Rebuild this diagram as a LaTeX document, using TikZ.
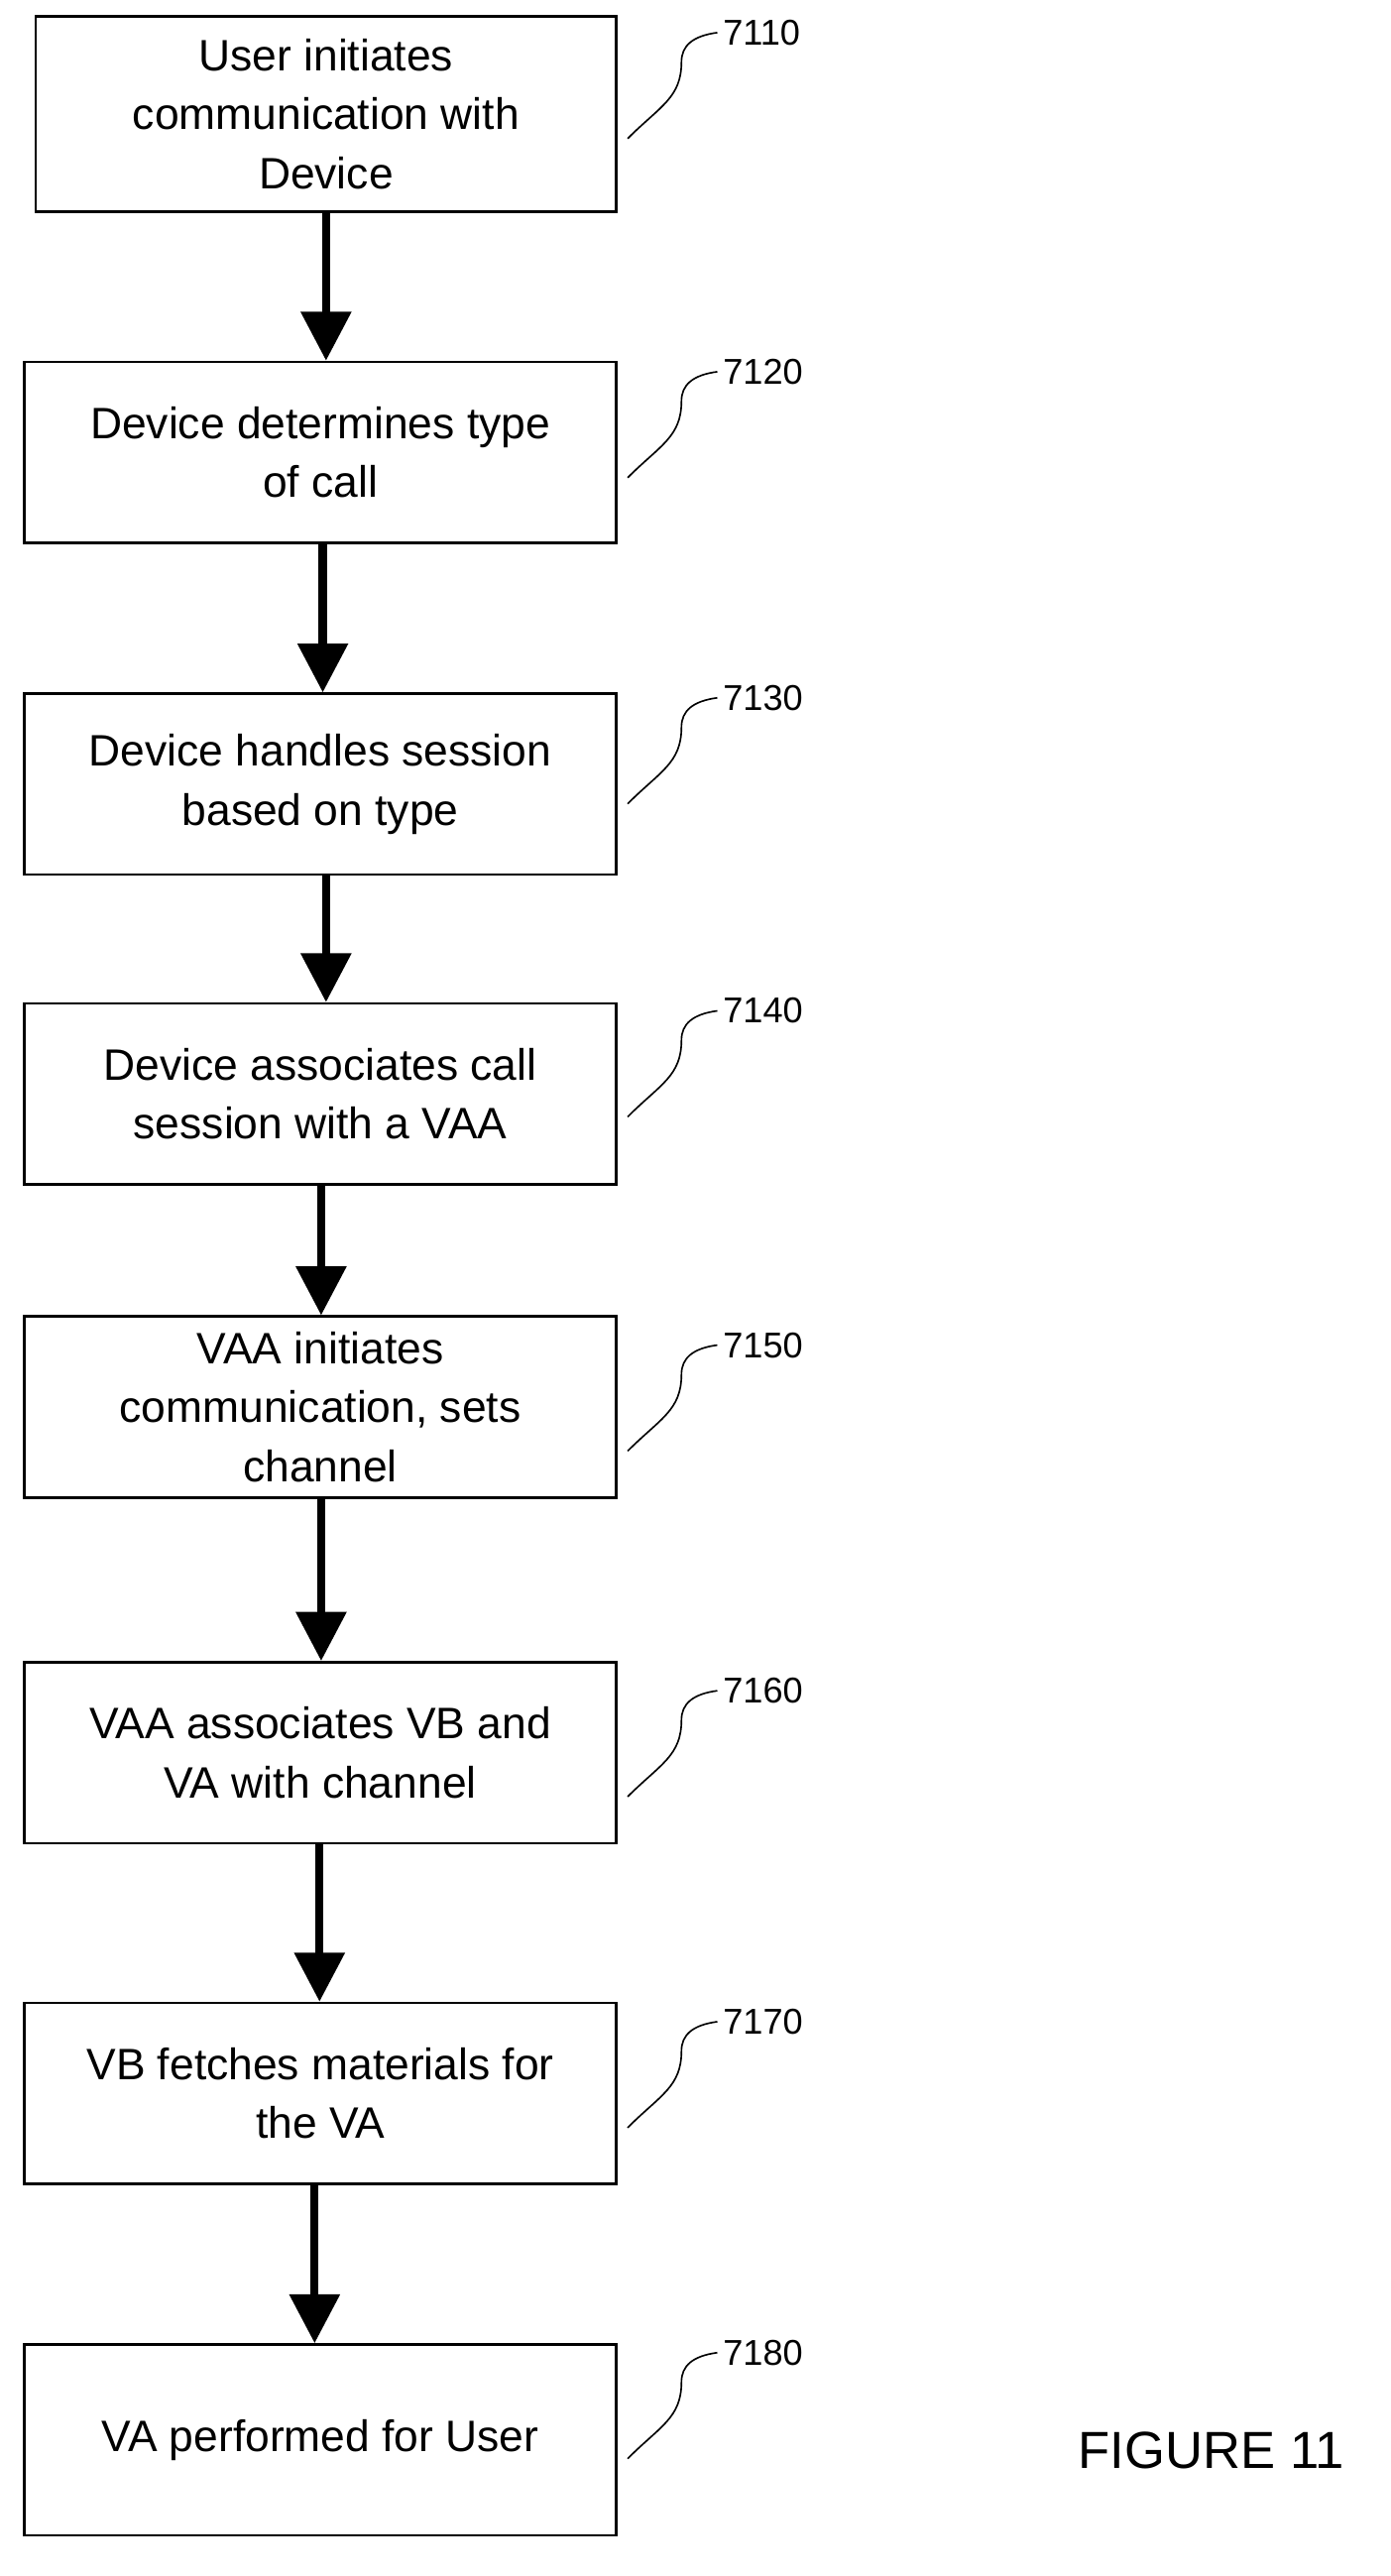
\documentclass[tikz,border=0pt]{standalone}
\usepackage{fontspec}
\setmainfont{Liberation Sans}
\usetikzlibrary{arrows.meta}
\begin{document}
\begin{tikzpicture}[x=1pt,y=-1pt,
 box/.style={draw,line width=1.6pt,minimum width=363pt,minimum height=111pt,align=center,font=\fontsize{27}{36}\selectfont,inner sep=0pt},
 arr/.style={line width=5pt,-{Triangle[length=30pt,width=30pt]}},
 lab/.style={font=\fontsize{22}{26}\selectfont,anchor=west},
 sq/.style={line width=1pt}]
\useasboundingbox (0,0) rectangle (853,1580);
\node[box,minimum width=356pt,minimum height=120pt] (b1) at (200,70) {User initiates\\communication with\\Device};
\node[box] (b2) at (196.5,277.5) {Device determines type\\of call};
\node[box] (b3) at (196.5,481) {Device handles session\\based on type};
\node[box] (b4) at (196.5,671) {Device associates call\\session with a VAA};
\node[box] (b5) at (196.5,863) {VAA initiates\\communication, sets\\channel};
\node[box] (b6) at (196.5,1075) {VAA associates VB and\\VA with channel};
\node[box] (b7) at (196.5,1284) {VB fetches materials for\\the VA};
\node[box,minimum height=117pt] (b8) at (196.5,1496.5) {VA performed for User};
\draw[arr] (b1.south-|200,0) -- (b2.north-|200,0);
\draw[arr] (b2.south-|198,0) -- (b3.north-|198,0);
\draw[arr] (b3.south-|200,0) -- (b4.north-|200,0);
\draw[arr] (b4.south-|197,0) -- (b5.north-|197,0);
\draw[arr] (b5.south-|197,0) -- (b6.north-|197,0);
\draw[arr] (b6.south-|196,0) -- (b7.north-|196,0);
\draw[arr] (b7.south-|193,0) -- (b8.north-|193,0);
\foreach \n/\y/\t in {1/20/7110,2/228/7120,3/428/7130,4/620/7140,5/825/7150,6/1037/7160,7/1240/7170,8/1443/7180}{
 \node[lab] (l\n) at (440,\y) {\t};
 \coordinate (s\n) at (385,\y+65);
 \draw[sq] (s\n) .. controls (405,\y+45) and (418,\y+40) .. (418,\y+18) .. controls (418,\y+8) and (425,\y+2) .. (l\n.west);
}
\node[font=\fontsize{32}{36}\selectfont,anchor=west] (fig) at (658,1503) {FIGURE 11};
\end{tikzpicture}
\end{document}
